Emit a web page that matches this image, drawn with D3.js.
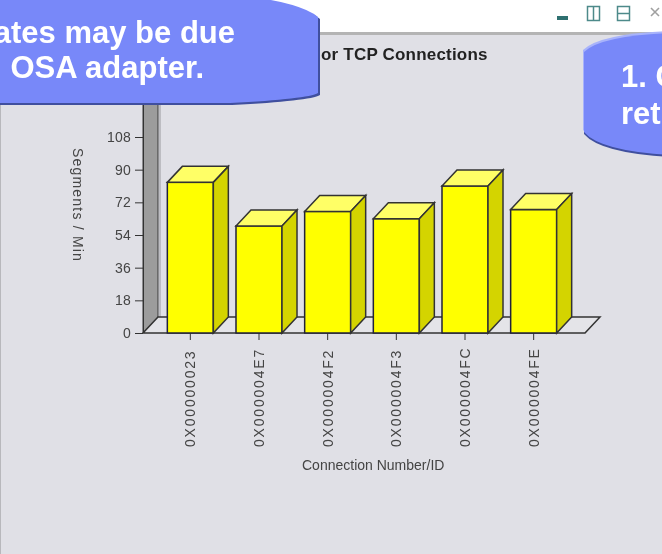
<!DOCTYPE html>
<html>
<head>
<meta charset="utf-8">
<script src="https://cdn.jsdelivr.net/npm/d3@7"></script>
<style>
  html, body { margin: 0; padding: 0; background: #fff; overflow: hidden; }
  text { font-family: "Liberation Sans", Arial, sans-serif; }
</style>
</head>
<body>
<div id="chart"></div>
<script>
const connections = ['0X00000023', '0X000004E7', '0X000004F2', '0X000004F3', '0X000004FC', '0X000004FE'];
const segments = [83, 59, 67, 63, 81, 68];
const yTicks = [0, 18, 36, 54, 72, 90, 108];

const width = 662;
const height = 554;
const depth = { x: 15, y: 16 };

const svg = d3.select('#chart').append('svg')
  .attr('width', width)
  .attr('height', height)
  .style('display', 'block');

// soft blur, the source is an upscaled screenshot
svg.append('defs').append('filter')
  .attr('id', 'soft')
  .append('feGaussianBlur')
  .attr('stdDeviation', 0.6);

// Window frame
svg.append('rect').attr('y', 34).attr('width', width).attr('height', height - 34).attr('fill', '#e0e0e6');
svg.append('rect').attr('y', 32).attr('width', width).attr('height', 3).attr('fill', '#b4b4b4');
svg.append('rect').attr('y', 34).attr('width', 1).attr('height', height).attr('fill', '#b8b8bc');

const icons = svg.append('g').attr('filter', 'url(#soft)');
icons.append('rect').attr('x', 557).attr('y', 16).attr('width', 11).attr('height', 4).attr('fill', '#2f6f70');
icons.append('rect').attr('x', 587.5).attr('y', 6.5).attr('width', 12).attr('height', 14).attr('fill', 'none').attr('stroke', '#4d8a8a').attr('stroke-width', 1.5);
icons.append('line').attr('x1', 593.5).attr('x2', 593.5).attr('y1', 6).attr('y2', 20).attr('stroke', '#4d8a8a').attr('stroke-width', 1.5);
icons.append('rect').attr('x', 617.5).attr('y', 6.5).attr('width', 12).attr('height', 14).attr('fill', 'none').attr('stroke', '#4d8a8a').attr('stroke-width', 1.5);
icons.append('line').attr('x1', 617).attr('x2', 630).attr('y1', 13.5).attr('y2', 13.5).attr('stroke', '#4d8a8a').attr('stroke-width', 1.5);
icons.append('path').attr('d', 'M651,8L659,16M659,8L651,16').attr('stroke', '#a0a0a0').attr('stroke-width', 1.6).attr('fill', 'none');

// Scales
const x = d3.scaleBand()
  .domain(connections)
  .range([156, 568])
  .paddingInner(0.33)
  .paddingOuter(0.165);

const y = d3.scaleLinear()
  .domain([0, 108])
  .range([333, 137]);

const chart = svg.append('g').attr('filter', 'url(#soft)');

// Back wall and floor
chart.append('path')
  .attr('d', `M143,${y(0)}L${143 + depth.x},${y(0) - depth.y}V90H143Z`)
  .attr('fill', '#9c9c9c')
  .attr('stroke', '#3a3a3a');
chart.append('line')
  .attr('x1', 160).attr('x2', 160)
  .attr('y1', y(0) - depth.y).attr('y2', 90)
  .attr('stroke', '#bdbdc2')
  .attr('stroke-width', 2);
chart.append('path')
  .attr('d', `M143,${y(0)}H585L600,${y(0) - depth.y}H158Z`)
  .attr('fill', '#e4e4e8')
  .attr('stroke', '#333')
  .attr('stroke-width', 1.5);

// Axes
const yAxis = chart.append('g')
  .attr('transform', 'translate(143,0)')
  .call(d3.axisLeft(y).tickValues(yTicks).tickSize(8).tickPadding(4));
yAxis.select('.domain').attr('stroke', '#333').attr('d', `M0.5,${y(0)}V90`);
yAxis.selectAll('.tick line').attr('stroke', '#333');
yAxis.selectAll('text').attr('fill', '#444').style('font-size', '14px').style('letter-spacing', '0.2px');

const xAxis = chart.append('g')
  .attr('transform', `translate(0,${y(0)})`)
  .call(d3.axisBottom(x).tickSize(7).tickPadding(0));
xAxis.select('.domain').remove();
xAxis.selectAll('.tick line').attr('stroke', '#333');
xAxis.selectAll('text')
  .attr('fill', '#444')
  .attr('text-anchor', 'start')
  .attr('transform', 'translate(0,114) rotate(-90)')
  .attr('x', 0)
  .attr('y', 0)
  .attr('dy', '0.35em')
  .style('font-size', '14px')
  .style('letter-spacing', '1.8px');

// Bars
const bars = chart.selectAll('.bar')
  .data(connections.map((id, i) => ({ id, value: segments[i] })))
  .enter()
  .append('g')
  .attr('class', 'bar');

bars.append('rect')
  .attr('x', d => x(d.id))
  .attr('y', d => y(d.value))
  .attr('width', x.bandwidth())
  .attr('height', d => y(0) - y(d.value))
  .attr('fill', '#ffff00')
  .attr('stroke', '#22223a')
  .attr('stroke-width', 1.5);

bars.append('path')
  .attr('d', d => {
    const l = x(d.id), r = l + x.bandwidth(), t = y(d.value);
    return `M${l},${t}L${l + depth.x},${t - depth.y}H${r + depth.x}L${r},${t}Z`;
  })
  .attr('fill', '#ffff66')
  .attr('stroke', '#333')
  .attr('stroke-width', 1.5);

bars.append('path')
  .attr('d', d => {
    const r = x(d.id) + x.bandwidth(), t = y(d.value);
    return `M${r},${t}L${r + depth.x},${t - depth.y}V${y(0) - depth.y}L${r},${y(0)}Z`;
  })
  .attr('fill', '#d4d400')
  .attr('stroke', '#333')
  .attr('stroke-width', 1.5);

// Titles
chart.append('text')
  .attr('x', 321).attr('y', 60)
  .attr('fill', '#222')
  .style('font-size', '17px')
  .style('font-weight', 'bold')
  .style('letter-spacing', '0.2px')
  .text('or TCP Connections');

chart.append('text')
  .attr('transform', 'translate(73,148) rotate(90)')
  .attr('fill', '#444')
  .style('font-size', '14px')
  .style('letter-spacing', '1.2px')
  .text('Segments / Min');

chart.append('text')
  .attr('x', 302).attr('y', 470)
  .attr('fill', '#444')
  .style('font-size', '14px')
  .text('Connection Number/ID');

// Callouts over the chart
const leftShape = 'M-5,-5H240Q302,3 318,17V93Q308,99 230,103H-5Z';
const rightShape = 'M670,33Q600,36 584,52V132Q600,151 670,155Z';

const callouts = svg.append('g').attr('filter', 'url(#soft)');
callouts.append('path').attr('d', leftShape).attr('transform', 'translate(2,2)').attr('fill', '#3f4f9e');
callouts.append('path').attr('d', leftShape).attr('fill', '#7888f9');
callouts.append('path').attr('d', rightShape).attr('transform', 'translate(0,2)').attr('fill', '#3f4f9e');
callouts.append('path').attr('d', rightShape).attr('transform', 'translate(-1,-2)').attr('fill', '#a8b3fb');
callouts.append('path').attr('d', rightShape).attr('fill', '#7888f9');

const calloutText = [
  { text: 'ates may be due', x: 235, y: 43, anchor: 'end' },
  { text: 'OSA adapter.', x: 204, y: 78, anchor: 'end' },
  { text: '1. C', x: 621, y: 87, anchor: 'start' },
  { text: 'ret', x: 621, y: 124, anchor: 'start' }
];
callouts.selectAll('.note')
  .data(calloutText)
  .enter()
  .append('text')
  .attr('class', 'note')
  .attr('x', d => d.x)
  .attr('y', d => d.y)
  .attr('text-anchor', d => d.anchor)
  .attr('fill', '#fff')
  .style('font-size', '31px')
  .style('font-weight', 'bold')
  .text(d => d.text);
</script>
</body>
</html>
